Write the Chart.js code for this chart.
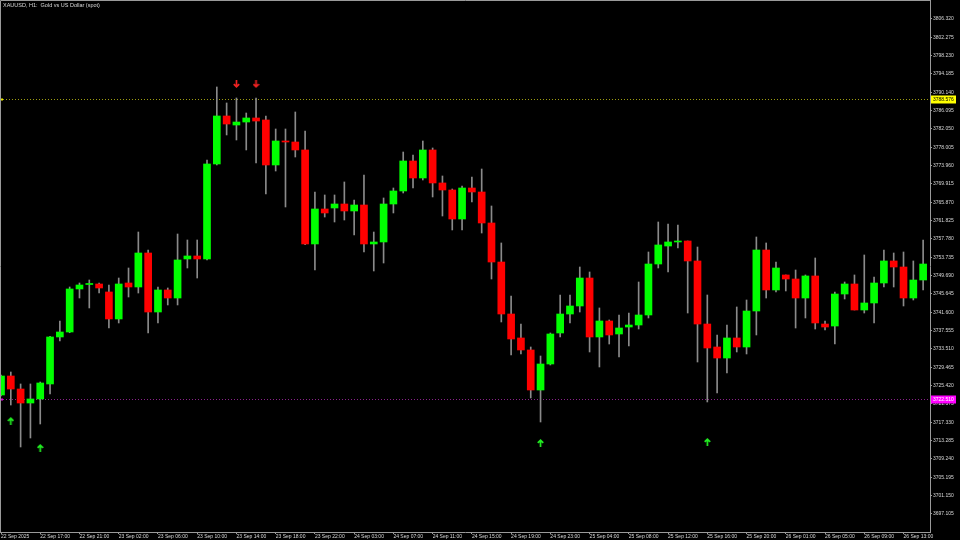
<!DOCTYPE html>
<html><head><meta charset="utf-8">
<script src="https://cdn.jsdelivr.net/npm/chart.js@4.4.1/dist/chart.umd.min.js"></script>
<style>html,body{margin:0;padding:0;background:#000;}canvas{display:block;}</style>
</head><body>
<canvas id="c" width="960" height="540"></canvas>
<script>
const titleText = "XAUUSD, H1:  Gold vs US Dollar (spot)";

const opens = [3723.36,3727.55,3724.68,3721.59,3722.48,3725.79,3736.16,3737.26,3746.75,3747.74,
3747.85,3746.09,3740.13,3748.07,3747.19,3754.69,3741.67,3746.53,3744.76,3753.37,
3754.03,3753.37,3774.33,3784.92,3782.93,3783.59,3784.48,3784.04,3774.11,3779.40,
3779.18,3777.42,3756.68,3764.40,3764.62,3765.50,3763.96,3765.28,3756.68,3757.12,
3765.50,3768.37,3774.99,3771.24,3777.42,3770.14,3768.59,3762.19,3769.03,3768.15,
3761.31,3752.70,3741.23,3735.94,3733.29,3724.46,3730.20,3737.04,3741.23,3743.00,
3749.17,3736.16,3739.69,3736.82,3738.36,3738.80,3741.01,3752.26,3756.23,3757.12,
3757.34,3752.93,3739.02,3733.95,3731.52,3735.94,3733.95,3741.89,3755.35,3746.53,
3749.84,3748.95,3744.76,3749.62,3739.02,3738.58,3745.64,3747.85,3742.11,3743.66,
3748.07,3752.93,3751.60,3744.76,3748.73];

const highs = [3727.77,3728.43,3725.79,3725.79,3726.23,3736.30,3739.69,3747.19,3748.07,3748.73,
3748.07,3747.63,3749.17,3751.38,3759.32,3755.35,3747.19,3746.97,3758.88,3757.56,
3757.56,3775.21,3791.32,3787.79,3788.89,3785.58,3788.89,3784.92,3782.05,3782.05,
3785.80,3781.61,3768.15,3767.49,3767.49,3770.36,3766.38,3771.90,3759.32,3766.83,
3769.03,3776.97,3776.31,3779.40,3777.86,3771.68,3768.81,3769.47,3771.46,3773.22,
3765.06,3756.90,3745.20,3739.02,3733.95,3731.96,3737.04,3745.42,3745.42,3751.60,
3750.50,3742.56,3739.91,3741.01,3741.45,3748.29,3754.91,3761.53,3761.09,3760.87,
3757.34,3756.01,3745.42,3736.60,3738.80,3742.78,3744.32,3758.22,3756.90,3752.70,
3749.84,3750.94,3749.84,3753.59,3739.69,3746.09,3748.29,3749.84,3754.25,3749.40,
3755.35,3754.69,3754.91,3752.93,3757.56];

const lows = [3723.14,3721.15,3711.89,3713.87,3716.96,3723.58,3735.27,3737.10,3744.76,3742.56,
3745.86,3738.14,3739.25,3744.98,3745.86,3737.04,3739.25,3743.22,3743.22,3751.38,
3749.17,3753.15,3774.11,3780.73,3779.62,3777.42,3774.55,3767.71,3772.78,3764.84,
3775.87,3756.50,3750.94,3762.63,3761.53,3761.97,3758.66,3754.91,3750.72,3752.48,
3763.52,3767.93,3769.03,3770.80,3767.05,3762.85,3759.77,3759.77,3765.94,3759.10,
3748.95,3739.47,3732.19,3732.41,3722.70,3717.40,3729.98,3736.16,3739.25,3741.67,
3732.85,3729.54,3734.61,3731.74,3734.17,3737.92,3740.35,3751.38,3750.50,3755.79,
3741.45,3730.64,3721.82,3723.80,3728.21,3732.85,3732.41,3736.60,3744.76,3746.09,
3746.31,3738.14,3740.35,3737.92,3737.70,3734.61,3744.54,3742.11,3741.45,3739.25,
3747.19,3747.19,3743.00,3744.32,3746.53];

const closes = [3727.55,3724.68,3721.59,3722.48,3726.01,3736.16,3737.26,3746.75,3747.63,3747.85,
3746.97,3740.13,3747.85,3747.19,3754.69,3741.67,3746.53,3744.76,3753.15,3754.03,
3753.37,3774.33,3784.92,3783.15,3783.59,3784.48,3783.81,3774.11,3779.40,3779.18,
3777.42,3756.68,3764.40,3763.52,3765.50,3763.96,3765.28,3756.68,3757.12,3765.50,
3768.37,3774.99,3771.24,3777.42,3770.14,3768.59,3762.19,3769.03,3768.15,3761.31,
3752.70,3741.23,3735.72,3733.29,3724.46,3730.20,3736.82,3741.23,3743.00,3749.17,
3736.16,3739.69,3736.60,3738.14,3738.80,3741.01,3752.26,3756.46,3757.12,3757.34,
3752.93,3739.02,3733.73,3731.52,3735.94,3733.95,3741.89,3755.35,3746.53,3751.38,
3748.95,3744.76,3749.62,3739.25,3738.36,3745.64,3747.85,3742.11,3743.66,3748.07,
3752.93,3751.60,3744.76,3748.73,3752.26];

const tickIndex = [0,4,8,12,16,20,24,28,32,36,40,44,48,52,56,60,64,68,72,76,80,84,88,92];
const tickLabels = ["22 Sep 2025","22 Sep 17:00","22 Sep 21:00","23 Sep 02:00","23 Sep 06:00","23 Sep 10:00",
"23 Sep 14:00","23 Sep 18:00","23 Sep 22:00","24 Sep 03:00","24 Sep 07:00","24 Sep 11:00",
"24 Sep 15:00","24 Sep 19:00","24 Sep 23:00","25 Sep 04:00","25 Sep 08:00","25 Sep 12:00",
"25 Sep 16:00","25 Sep 20:00","26 Sep 01:00","26 Sep 05:00","26 Sep 09:00","26 Sep 13:00"];

const priceTicks = [3697.105,3701.150,3705.195,3709.240,3713.285,3717.330,3721.375,3725.420,3729.465,
3733.510,3737.555,3741.600,3745.645,3749.690,3753.735,3757.780,3761.825,3765.870,3769.915,3773.960,
3778.005,3782.050,3786.095,3790.140,3794.185,3798.230,3802.275,3806.320];

const upArrowIndex = [1,4,55,72];
const upArrowPrice = [3717.62,3711.67,3712.77,3712.99];
const downArrowIndex = [24,26];
const downArrowPrice = [3791.98,3791.98];

const levelYellow = 3788.576;
const levelMagenta = 3722.510;

const GREEN = '#00ff00', RED = '#ff0000', WICK = '#8a8a8a', AXIS = '#9a9a9a', TXT = '#d8d8d8';

function makeArrow(color, up){
  const cv = document.createElement('canvas');
  cv.width = 7; cv.height = 8;
  const g = cv.getContext('2d');
  g.strokeStyle = color; g.lineWidth = 1.7; g.lineCap = 'butt';
  if (!up){ g.translate(0,8); g.scale(1,-1); }
  g.beginPath();
  g.moveTo(3.5,8); g.lineTo(3.5,1.2);
  g.moveTo(0.8,3.9); g.lineTo(3.5,1.2); g.lineTo(6.2,3.9);
  g.stroke();
  return cv;
}

const overlay = {
  id: 'overlay',
  beforeDraw(chart){
    const c = chart.ctx; c.save(); c.fillStyle = '#000'; c.fillRect(0,0,chart.width,chart.height); c.restore();
  },
  beforeDatasetsDraw(chart){
    const c = chart.ctx, a = chart.chartArea, y = chart.scales.y;
    c.save();
    c.lineWidth = 1; c.setLineDash([1,2]);
    [[levelYellow,'#9c9c10','#e8e800'],[levelMagenta,'#8a208a','#e000e0']].forEach(([v,col,mark])=>{
      const py = Math.round(y.getPixelForValue(v)) + 0.5;
      c.strokeStyle = col; c.beginPath(); c.moveTo(a.left, py); c.lineTo(a.right, py); c.stroke();
      c.fillStyle = mark; c.fillRect(a.left, py - 1, 3, 2);
    });
    c.restore();
  },
  afterDraw(chart){
    const c = chart.ctx, a = chart.chartArea, y = chart.scales.y;
    c.save();
    c.strokeStyle = AXIS; c.lineWidth = 1;
    c.beginPath(); c.moveTo(0.5, a.bottom); c.lineTo(0.5, 0.5); c.lineTo(a.right, 0.5); c.stroke();
    c.font = '5px "Liberation Sans"'; c.textBaseline = 'middle';
    [[levelYellow,'#ffff00','#000'],[levelMagenta,'#ff00ff','#fff']].forEach(([v,bg,fg])=>{
      const py = Math.round(y.getPixelForValue(v));
      c.fillStyle = bg; c.fillRect(a.right + 1, py - 3.5, 25, 8);
      c.fillStyle = fg; c.fillText(v.toFixed(3), a.right + 3, py + 0.5);
    });
    c.fillStyle = TXT; c.font = '5.5px "Liberation Sans"';
    c.fillText(titleText, 3, 5);
    c.restore();
  }
};

const bodyData = opens.map((o,i)=>({x:i, y:[o, closes[i]]}));
const wickData = lows.map((l,i)=>({x:i, y:[l, highs[i]]}));
const bodyColors = opens.map((o,i)=> closes[i] >= o ? GREEN : RED);

new Chart(document.getElementById('c'), {
  type: 'bar',
  data: {
    datasets: [
      { type:'bar', data: wickData, backgroundColor: WICK, barThickness: 1, grouped: false, order: 2, borderWidth: 0 },
      { type:'bar', data: bodyData, backgroundColor: bodyColors, barThickness: 7, grouped: false, order: 1, borderWidth: 0, minBarLength: 1 },
      { type:'scatter', data: upArrowIndex.map((x,k)=>({x, y: upArrowPrice[k]})), pointStyle: makeArrow('#22ee22', true), order: 0 },
      { type:'scatter', data: downArrowIndex.map((x,k)=>({x, y: downArrowPrice[k]})), pointStyle: makeArrow('#ee2222', false), order: 0 }
    ]
  },
  options: {
    responsive: false, animation: false, devicePixelRatio: 1,
    layout: { padding: 0, autoPadding: false },
    plugins: { legend: { display: false }, tooltip: { enabled: false }, title: { display: false } },
    scales: {
      x: {
        type: 'linear', min: -0.102, max: 94.70, offset: false,
        grid: { drawOnChartArea: false, offset: false, tickLength: 2, tickColor: AXIS },
        border: { color: AXIS, width: 1 },
        afterBuildTicks: s => { s.ticks = tickIndex.map(v => ({ value: v })); },
        afterFit: s => { s.height = 8; s.paddingLeft = 0; s.paddingRight = 0; s.paddingTop = 0; s.paddingBottom = 0; },
        ticks: {
          autoSkip: false, maxRotation: 0, minRotation: 0, align: 'start', padding: 0,
          color: TXT, font: { size: 5, family: 'Liberation Sans' },
          callback: v => tickLabels[tickIndex.indexOf(v)]
        }
      },
      y: {
        type: 'linear', position: 'right', min: 3693.13, max: 3810.51,
        grid: { drawOnChartArea: false, tickLength: 2, tickColor: AXIS },
        border: { color: AXIS, width: 1 },
        afterBuildTicks: s => { s.ticks = priceTicks.map(v => ({ value: v })); },
        afterFit: s => { s.width = 30; s.paddingTop = 0; s.paddingBottom = 0; s.paddingLeft = 0; s.paddingRight = 0; },
        ticks: {
          autoSkip: false, crossAlign: 'near', padding: 1,
          color: TXT, font: { size: 5, family: 'Liberation Sans' },
          callback: v => Number(v).toFixed(3)
        }
      }
    }
  },
  plugins: [overlay]
});
</script>
</body></html>
